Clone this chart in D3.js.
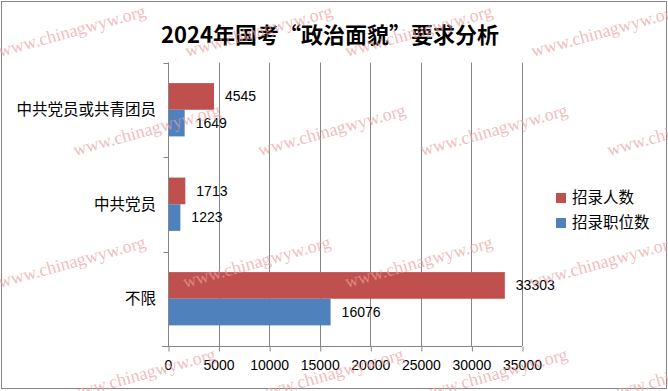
<!DOCTYPE html>
<html><head><meta charset="utf-8">
<script src="https://cdn.jsdelivr.net/npm/d3@7/dist/d3.min.js"></script>
<style>html,body{margin:0;padding:0;background:#fff;}svg{display:block;}</style>
</head><body>
<svg id="chart" width="668" height="391"></svg>
<script>
const title = "2024年国考“政治面貌”要求分析";
const categories = ["中共党员或共青团员", "中共党员", "不限"];
const seriesNames = ["招录人数", "招录职位数"];
const recruitCount = [4545, 1713, 33303];
const positionCount = [1649, 1223, 16076];
const xTicks = [0, 5000, 10000, 15000, 20000, 25000, 30000, 35000];
const watermarkText = "www.chinagwyw.org";

(function () {
const colors = ["#C0504D", "#4F81BD"];
const seriesValues = [recruitCount, positionCount];
const svg = d3.select("#chart");
const W = 668, H = 391;
const pL = 168, pR = 522, pT = 62.5, pB = 346;
const gridColor = "#868686";
const cjk = "'Noto Sans CJK SC', 'Microsoft YaHei', sans-serif";
const latin = "'Liberation Sans', Arial, sans-serif";

svg.append("rect").attr("x", 0).attr("y", 0).attr("width", W).attr("height", H).attr("fill", "#fff");
svg.append("rect").attr("x", 1.5).attr("y", 1.5).attr("width", 665).attr("height", 387)
  .attr("fill", "none").attr("stroke", gridColor).attr("stroke-width", 1);

const x = d3.scaleLinear().domain([0, 35000]).range([pL, pR]);
const y = d3.scaleBand().domain(categories).range([pT, pB]).paddingInner(0.436).paddingOuter(0.218);
const yInner = d3.scaleBand().domain(seriesNames).range([0, y.bandwidth()]);

// grid lines
svg.append("g").selectAll("line").data(xTicks.slice(1)).join("line")
  .attr("x1", d => Math.round(x(d)) + 0.5).attr("x2", d => Math.round(x(d)) + 0.5)
  .attr("y1", pT).attr("y2", pB)
  .attr("stroke", gridColor).attr("stroke-width", 1);

// bars
const groups = svg.append("g").selectAll("g").data(categories).join("g")
  .attr("transform", d => `translate(0,${y(d)})`);
groups.selectAll("rect").data((c, i) => seriesNames.map((s, j) => ({s, j, v: seriesValues[j][i]})))
  .join("rect")
  .attr("x", x(0)).attr("y", d => yInner(d.s))
  .attr("width", d => x(d.v) - x(0)).attr("height", yInner.bandwidth())
  .attr("fill", d => colors[d.j]);
groups.selectAll("text").data((c, i) => seriesNames.map((s, j) => ({s, j, v: seriesValues[j][i]})))
  .join("text")
  .attr("x", d => x(d.v) + 11).attr("y", d => yInner(d.s) + yInner.bandwidth() / 2)
  .attr("dy", "0.35em")
  .attr("font-family", latin).attr("font-size", 14).attr("fill", "#000")
  .text(d => d.v);

// x axis
const xAxis = svg.append("g").attr("transform", `translate(0,${pB + 0.5})`)
  .call(d3.axisBottom(x).tickValues(xTicks).tickFormat(d3.format("d")).tickSize(5).tickSizeOuter(0).tickPadding(9));
xAxis.select(".domain").attr("stroke", gridColor).attr("d", `M${pL - 6},0H${pR}`);
xAxis.selectAll(".tick line").attr("stroke", gridColor).attr("transform", "translate(0.5,0)");
xAxis.selectAll(".tick text").attr("font-family", latin).attr("font-size", 14).attr("fill", "#000");

// y axis
const yAxisG = svg.append("g").attr("transform", `translate(${pL + 0.5},0)`);
yAxisG.append("line").attr("x1", 0).attr("x2", 0).attr("y1", pT).attr("y2", pB)
  .attr("stroke", gridColor);
const boundaries = d3.range(categories.length + 1).map(i => pT + i * y.step());
yAxisG.selectAll("line.tk").data(boundaries).join("line").attr("class", "tk")
  .attr("x1", -5).attr("x2", 0).attr("y1", d => Math.round(d) + 0.5).attr("y2", d => Math.round(d) + 0.5)
  .attr("stroke", gridColor);
svg.append("g").selectAll("text").data(categories).join("text")
  .attr("x", pL - 12).attr("y", d => y(d) + y.bandwidth() / 2)
  .attr("dy", "0.35em").attr("text-anchor", "end")
  .attr("font-family", cjk).attr("font-size", 15.5).attr("fill", "#000")
  .text(d => d);

// title
svg.append("text").attr("x", 330).attr("y", 43).attr("text-anchor", "middle")
  .attr("font-family", cjk).attr("font-weight", "bold").attr("font-size", 22).attr("fill", "#000")
  .text(title);

// legend
const legend = svg.append("g").selectAll("g").data(seriesNames).join("g")
  .attr("transform", (d, i) => `translate(556,${193 + i * 25})`);
legend.append("rect").attr("width", 10).attr("height", 10).attr("fill", (d, i) => colors[i]);
legend.append("text").attr("x", 16).attr("y", 5).attr("dy", "0.35em")
  .attr("font-family", cjk).attr("font-size", 15.5).attr("fill", "#000").text(d => d);

// watermarks
const wmX = [[0, 187, 347, 533], [75, 260, 422, 609], [0, 185, 347, 531], [70, 258, 422, 609]];
const wmY = [57, 156, 288, 400];
const wm = [];
wmY.forEach((yy, r) => wmX[r].forEach(xx => wm.push([xx, yy])));
svg.append("g").attr("pointer-events", "none").selectAll("text").data(wm).join("text")
  .attr("transform", d => `translate(${d[0]},${d[1]}) rotate(-15.5)`)
  .attr("font-family", "'Liberation Serif', 'Times New Roman', serif").attr("font-size", 18)
  .attr("fill", "#e9a0a0").attr("fill-opacity", 0.7)
  .text(watermarkText);
})();
</script>
</body></html>
